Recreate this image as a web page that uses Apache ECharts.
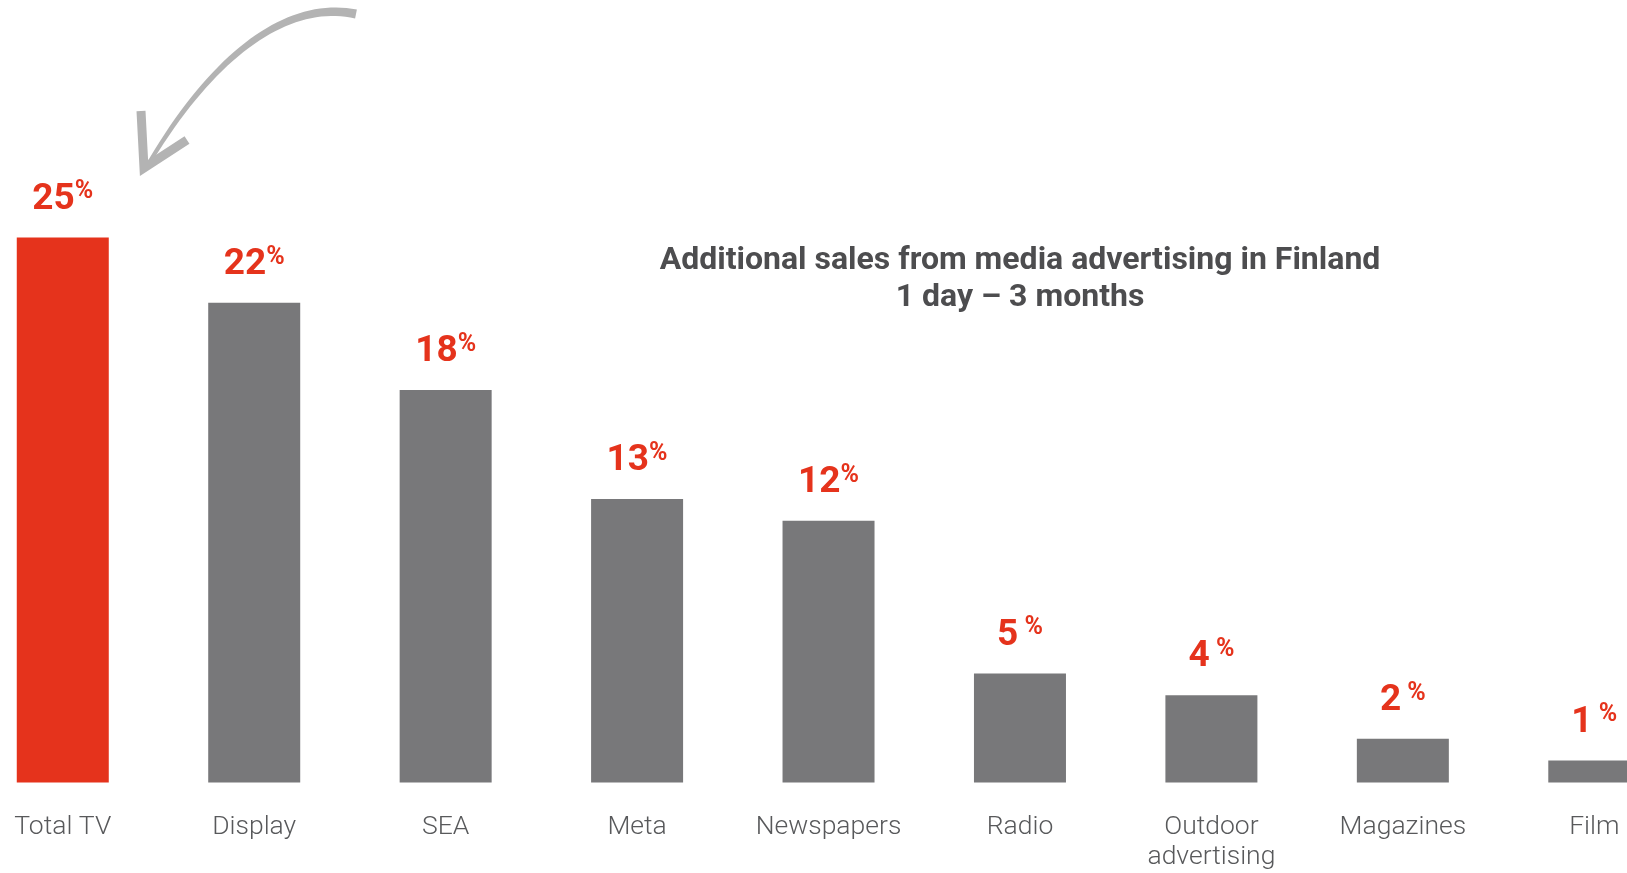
<!DOCTYPE html>
<html>
<head>
<meta charset="utf-8">
<title>Additional sales from media advertising in Finland</title>
<script src="https://cdn.jsdelivr.net/npm/echarts@6/dist/echarts.min.js"></script>
<style>
  html, body { margin: 0; padding: 0; background: #ffffff; }
  #chart { width: 1627px; height: 873px; }
</style>
</head>
<body>
<div id="chart"></div>
<script>
// Media channels and the additional sales (%) each one produced
const categories = ['Total TV', 'Display', 'SEA', 'Meta', 'Newspapers', 'Radio', 'Outdoor\nadvertising', 'Magazines', 'Film'];
const values = [25, 22, 18, 13, 12, 5, 4, 2, 1];
const titleLines = ['Additional sales from media advertising in Finland', '1 day \u2013 3 months'];

const RED = '#e5331c';
const GREY = '#78787a';
const TEXT = '#58595b';
const ARROW = '#b3b3b3';

// Tapered outline along a cubic Bezier, used for the hand-drawn pointer
function taperedCurve(p0, p1, p2, p3, w0, w1, steps) {
  const pt = t => {
    const u = 1 - t;
    return [
      u * u * u * p0[0] + 3 * u * u * t * p1[0] + 3 * u * t * t * p2[0] + t * t * t * p3[0],
      u * u * u * p0[1] + 3 * u * u * t * p1[1] + 3 * u * t * t * p2[1] + t * t * t * p3[1]
    ];
  };
  const left = [], right = [];
  for (let i = 0; i <= steps; i++) {
    const t = i / steps;
    const a = pt(Math.max(0, t - 0.01)), b = pt(Math.min(1, t + 0.01));
    const dx = b[0] - a[0], dy = b[1] - a[1];
    const len = Math.hypot(dx, dy) || 1;
    const nx = -dy / len, ny = dx / len;
    const w = (w0 + (w1 - w0) * t) / 2;
    const c = pt(t);
    left.push([c[0] + nx * w, c[1] + ny * w]);
    right.push([c[0] - nx * w, c[1] - ny * w]);
  }
  return left.concat(right.reverse());
}

// Channel slots sit on an index axis; the last slot runs past the right edge
const slotIndex = categories.map((_, i) => i);

const chart = echarts.init(document.getElementById('chart'), null, { renderer: 'canvas' });

chart.setOption({
  backgroundColor: '#ffffff',
  animation: false,
  grid: { left: 0, right: 0, top: 128.4, bottom: 90.6, containLabel: false },
  xAxis: {
    type: 'value',
    min: -0.3279,
    max: 8.1709,
    splitLine: { show: false },
    axisLine: { show: false },
    axisTick: { show: false },
    axisLabel: {
      customValues: slotIndex,
      formatter: v => categories[Math.round(v)],
      margin: 30,
      color: TEXT,
      fontFamily: 'Roboto',
      fontWeight: 300,
      fontSize: 26.5,
      lineHeight: 30
    }
  },
  yAxis: {
    type: 'value',
    min: 0,
    max: 30,
    show: false,
    splitLine: { show: false }
  },
  series: [{
    type: 'bar',
    data: values.map((v, i) => [slotIndex[i], v]),
    barWidth: 92,
    itemStyle: {
      color: p => (p.dataIndex === 0 ? RED : GREY)
    },
    label: {
      show: true,
      position: 'top',
      distance: 18,
      formatter: p => {
        const v = p.value[1];
        return `{n|${v}}{p|${v < 10 ? ' ' : ''}%}`;
      },
      rich: {
        n: { fontFamily: 'Roboto', fontWeight: 'bold', fontSize: 37, lineHeight: 40, color: RED },
        p: { fontFamily: 'Roboto', fontWeight: 'bold', fontSize: 25, lineHeight: 24, color: RED, verticalAlign: 'top' }
      }
    }
  }],
  graphic: [
    {
      // chart heading
      type: 'text',
      x: 1020,
      y: 279.5,
      style: {
        text: titleLines.join('\n'),
        align: 'center',
        verticalAlign: 'middle',
        fontFamily: 'Roboto',
        fontWeight: 'bold',
        fontSize: 32,
        lineHeight: 37,
        fill: '#4d4d4f'
      }
    },
    {
      // curved pointer towards the Total TV bar: body
      type: 'polygon',
      shape: {
        points: taperedCurve([356, 14], [290, 0], [215, 50], [146, 168], 9, 4, 40)
      },
      style: { fill: ARROW }
    },
    {
      // pointer head
      type: 'polyline',
      shape: { points: [[141, 111], [144, 168], [187, 140]] },
      style: { stroke: ARROW, lineWidth: 9, fill: null, lineJoin: 'miter', lineCap: 'butt' }
    }
  ]
});
</script>
</body>
</html>
